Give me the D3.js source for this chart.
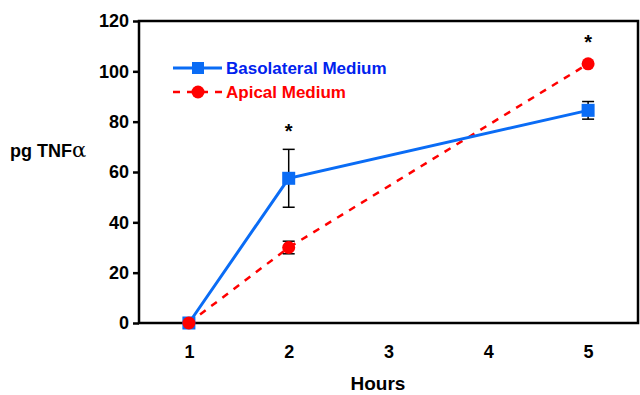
<!DOCTYPE html>
<html>
<head>
<meta charset="utf-8">
<script src="https://cdn.jsdelivr.net/npm/d3@7"></script>
<style>
  body { margin: 0; background: #fff; }
  text { font-family: "Liberation Sans", Arial, sans-serif; font-weight: bold; }
</style>
</head>
<body>
<div id="chart"></div>
<script>
// data
const hours = [1, 2, 5];
const basolateral = [0, 57.5, 84.5];
const basolateralErr = [0, 11.5, 3.5];
const apical = [0, 30, 103];
const apicalErr = [0, 2.5, 0];
const xTicks = [1, 2, 3, 4, 5];
const yTicks = [0, 20, 40, 60, 80, 100, 120];
const stars = [{ x: 2, y: 77 }, { x: 5, y: 112.5 }];

const width = 640, height = 395;
const margin = { top: 21, right: 2, bottom: 72, left: 139 };

const svg = d3.select("#chart").append("svg")
  .attr("width", width)
  .attr("height", height);

const x = d3.scaleLinear().domain([0.5, 5.5]).range([margin.left, width - margin.right]);
const y = d3.scaleLinear().domain([0, 120]).range([height - margin.bottom, margin.top]);

// frame
svg.append("rect")
  .attr("x", x(0.5)).attr("y", y(120))
  .attr("width", x(5.5) - x(0.5)).attr("height", y(0) - y(120))
  .attr("fill", "none").attr("stroke", "#000").attr("stroke-width", 2.5);

// y axis
const yAxis = svg.append("g")
  .attr("transform", `translate(${margin.left},0)`)
  .call(d3.axisLeft(y).tickValues(yTicks).tickSize(6).tickPadding(4));
yAxis.select(".domain").remove();
yAxis.selectAll("line").attr("stroke-width", 2.5);
yAxis.selectAll("text").attr("font-size", 18).attr("fill", "#000")
  .style("font-family", "Liberation Sans, Arial, sans-serif").style("font-weight", "bold");

// x axis (labels only)
const xAxis = svg.append("g")
  .attr("transform", `translate(0,${y(0)})`)
  .call(d3.axisBottom(x).tickValues(xTicks).tickSize(0).tickPadding(22).tickFormat(d3.format("d")));
xAxis.select(".domain").remove();
xAxis.selectAll("text").attr("font-size", 18).attr("fill", "#000")
  .style("font-family", "Liberation Sans, Arial, sans-serif").style("font-weight", "bold");

// axis titles
svg.append("text").attr("x", 378).attr("y", 390).attr("text-anchor", "middle")
  .attr("font-size", 19).text("Hours");
const yt = svg.append("text").attr("x", 10).attr("y", 157).attr("font-size", 18);
yt.append("tspan").text("pg TNF");
yt.append("tspan").attr("font-size", 21).style("font-family", "DejaVu Serif, serif").style("font-weight", "normal").text("α");

const line = d3.line().x((d, i) => x(hours[i])).y(d => y(d));

// apical (dashed red)
svg.append("path").datum(apical)
  .attr("d", line).attr("fill", "none")
  .attr("stroke", "#ff0000").attr("stroke-width", 2.5).attr("stroke-dasharray", "7,7");

// basolateral (solid blue)
svg.append("path").datum(basolateral)
  .attr("d", line).attr("fill", "none")
  .attr("stroke", "#0a6cf5").attr("stroke-width", 3);

// error bars
function errorBars(vals, errs) {
  const g = svg.append("g").attr("stroke", "#000").attr("stroke-width", 1.5);
  vals.forEach((v, i) => {
    if (!errs[i]) return;
    const cx = x(hours[i]);
    g.append("line").attr("x1", cx).attr("x2", cx).attr("y1", y(v - errs[i])).attr("y2", y(v + errs[i]));
    [v - errs[i], v + errs[i]].forEach(e => {
      g.append("line").attr("x1", cx - 6).attr("x2", cx + 6).attr("y1", y(e)).attr("y2", y(e));
    });
  });
}
errorBars(basolateral, basolateralErr);
errorBars(apical, apicalErr);

// markers
svg.selectAll(".sq").data(basolateral).enter().append("rect")
  .attr("x", (d, i) => x(hours[i]) - 6.5).attr("y", d => y(d) - 6.5)
  .attr("width", 13).attr("height", 13).attr("fill", "#0a6cf5");
svg.selectAll(".dot").data(apical).enter().append("circle")
  .attr("cx", (d, i) => x(hours[i])).attr("cy", d => y(d)).attr("r", 6.5).attr("fill", "#ff0000");

// significance stars
svg.selectAll(".star").data(stars).enter().append("text")
  .attr("x", d => x(d.x)).attr("y", d => y(d.y) + 9).attr("text-anchor", "middle")
  .attr("font-size", 20).text("*");

// legend
const legend = [
  { label: "Basolateral Medium", color: "#0a6cf5", text: "#0022ee", dash: null, shape: "square", yy: 68 },
  { label: "Apical Medium", color: "#ff0000", text: "#ff0000", dash: "7,7", shape: "circle", yy: 92 }
];
legend.forEach(l => {
  svg.append("line").attr("x1", 173).attr("x2", 222).attr("y1", l.yy).attr("y2", l.yy)
    .attr("stroke", l.color).attr("stroke-width", l.dash ? 2.5 : 3)
    .attr("stroke-dasharray", l.dash);
  if (l.shape === "square") {
    svg.append("rect").attr("x", 192).attr("y", l.yy - 6).attr("width", 12).attr("height", 12).attr("fill", l.color);
  } else {
    svg.append("circle").attr("cx", 198).attr("cy", l.yy).attr("r", 6.5).attr("fill", l.color);
  }
  svg.append("text").attr("x", 226).attr("y", l.yy + 6).attr("font-size", 17)
    .attr("fill", l.text).text(l.label);
});
</script>
</body>
</html>
